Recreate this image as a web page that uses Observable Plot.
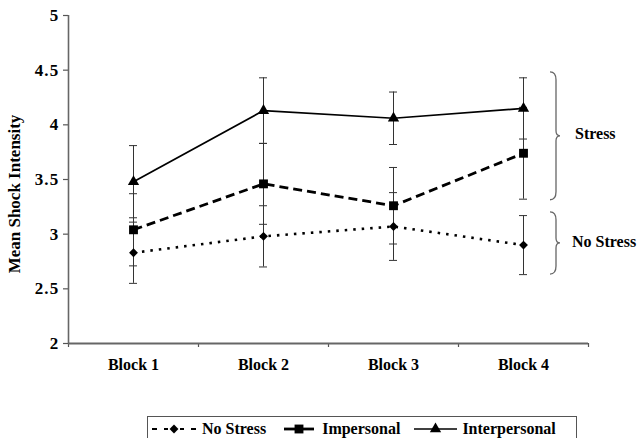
<!DOCTYPE html>
<html>
<head>
<meta charset="utf-8">
<script src="https://cdn.jsdelivr.net/npm/d3@7"></script>
<script src="https://cdn.jsdelivr.net/npm/@observablehq/plot@0.6"></script>
<style>
  html, body { margin: 0; padding: 0; background: #fff; }
  #wrap { position: relative; width: 640px; height: 438px; overflow: hidden; font-family: "Liberation Serif", "Times New Roman", serif; font-weight: bold; }
  #legend { position: absolute; left: 147px; top: 416px; width: 430px; height: 26px; border: 1px solid #555; box-sizing: border-box;
            display: flex; align-items: center; font-size: 16px; color: #000; white-space: nowrap; }
  #legend .item { display: flex; align-items: center; }
  #legend svg { display: block; }
  .ytick text { letter-spacing: 1.2px; }
</style>
</head>
<body>
<div id="wrap"></div>
<script>
// ---- data ----
const blocks = ["Block 1", "Block 2", "Block 3", "Block 4"];
const seriesNames = ["No Stress", "Impersonal", "Interpersonal"];
const noStress = [2.83, 2.98, 3.07, 2.90];
const noStressErr = [0.28, 0.28, 0.31, 0.27];
const impersonal = [3.04, 3.46, 3.26, 3.74];
const impersonalErr = [0.33, 0.37, 0.35, 0.42];
const interpersonal = [3.48, 4.13, 4.06, 4.15];
const interpersonalErr = [0.33, 0.30, 0.24, 0.28];
const yTicks = [2, 2.5, 3, 3.5, 4, 4.5, 5];
const braceLabels = ["Stress", "No Stress"];
const braceLow = [3.31, 2.63];
const braceHigh = [4.48, 3.20];

const FONT = "Liberation Serif";

// ---- styles per series ----
const styles = {
  "No Stress": {dash: "2.5,6", width: 2.6, symbol: "diamond2", r: 4},
  "Impersonal": {dash: "9,5", width: 2.8, symbol: "square", r: 5},
  "Interpersonal": {dash: null, width: 1.7, symbol: "triangle", r: 4.2}
};

const values = [noStress, impersonal, interpersonal];
const errs = [noStressErr, impersonalErr, interpersonalErr];
const rows = [];
seriesNames.forEach((s, k) => {
  blocks.forEach((b, i) => {
    rows.push({series: s, block: b, i, v: values[k][i], lo: values[k][i] - errs[k][i], hi: values[k][i] + errs[k][i]});
  });
});
const idx = blocks.map((b, i) => i);
const bounds = [-0.5, ...idx.map(i => i + 0.5)];

const lineMarks = seriesNames.flatMap(s => {
  const st = styles[s];
  const d = rows.filter(r => r.series === s);
  return [
    Plot.line(d, {x: "i", y: "v", stroke: "#000", strokeWidth: st.width, strokeDasharray: st.dash, strokeLinecap: "butt"}),
    Plot.dot(d, {x: "i", y: "v", symbol: () => st.symbol, r: st.r, fill: "#000", stroke: "none"})
  ];
});

const chart = Plot.plot({
  width: 640,
  height: 400,
  marginLeft: 68,
  marginRight: 52,
  marginTop: 15,
  marginBottom: 57,
  style: {fontFamily: FONT, fontSize: "16px", fontWeight: "bold", color: "#000", background: "transparent", overflow: "visible"},
  x: {type: "linear", domain: [-0.5, blocks.length - 0.5], axis: null},
  y: {domain: [2, 5], axis: null},
  symbol: {type: "identity"},
  marks: [
    Plot.axisY({ticks: yTicks, tickSize: 5, tickFormat: () => "", label: null, stroke: "#555", strokeWidth: 1.2}),
    Plot.text(yTicks, {y: d => d, text: d => String(d), frameAnchor: "left", dx: -9, textAnchor: "end", className: "ytick",
                       fontFamily: FONT, fontSize: 17, fontWeight: "bold", fill: "#000"}),
    Plot.text(idx, {x: d => d, text: d => blocks[d], frameAnchor: "bottom", dy: 26,
                    fontFamily: FONT, fontSize: 16, fontWeight: "bold", fill: "#000"}),
    Plot.axisX({ticks: bounds, tickSize: 4, tickFormat: () => "", label: null, stroke: "#555", strokeWidth: 1.2}),
    Plot.ruleX([-0.5], {y1: 2, y2: 5, stroke: "#666", strokeWidth: 1.6}),
    Plot.ruleY([2], {x1: -0.5, x2: blocks.length - 0.5, stroke: "#666", strokeWidth: 2}),
    Plot.ruleX(rows, {x: "i", y1: "lo", y2: "hi", stroke: "#333", strokeWidth: 1}),
    Plot.ruleY(rows, {y: "lo", x1: "i", x2: "i", insetLeft: -4, insetRight: -4, stroke: "#333", strokeWidth: 1}),
    Plot.ruleY(rows, {y: "hi", x1: "i", x2: "i", insetLeft: -4, insetRight: -4, stroke: "#333", strokeWidth: 1}),
    ...lineMarks
  ]
});

document.getElementById("wrap").appendChild(chart);

// y-axis title
const svg = d3.select(chart);
const ys = chart.scale("y");
const xs = chart.scale("x");
svg.append("text")
  .attr("transform", `translate(16,${(ys.apply(2) + ys.apply(5)) / 2 + 15}) rotate(-90)`)
  .attr("text-anchor", "middle")
  .attr("dominant-baseline", "middle")
  .attr("font-family", FONT)
  .attr("font-size", 17)
  .attr("font-weight", "bold")
  .attr("fill", "#000")
  .text("Mean Shock Intensity");

// braces
const bx = xs.apply(blocks.length - 1) + 27;
braceLabels.forEach((lab, k) => {
  const top = ys.apply(braceHigh[k]);
  const bot = ys.apply(braceLow[k]);
  const mid = (top + bot) / 2;
  const w = 6;
  const p = `M${bx},${top} Q${bx + w},${top} ${bx + w},${top + 8} L${bx + w},${mid - 5} Q${bx + w},${mid} ${bx + w + 4},${mid} Q${bx + w},${mid} ${bx + w},${mid + 5} L${bx + w},${bot - 8} Q${bx + w},${bot} ${bx},${bot}`;
  svg.append("path").attr("d", p).attr("fill", "none").attr("stroke", "#666").attr("stroke-width", 1.3);
  svg.append("text")
    .attr("x", bx + 25 + (k === 1 ? -3 : 0))
    .attr("y", mid)
    .attr("text-anchor", "start")
    .attr("dominant-baseline", "middle")
    .attr("font-family", FONT)
    .attr("font-size", 16)
    .attr("font-weight", "bold")
    .attr("fill", "#000")
    .text(lab);
});

// legend
const legend = d3.select("#wrap").append("div").attr("id", "legend");
const swW = {"No Stress": 48, "Impersonal": 30, "Interpersonal": 43};
const gapBefore = {"No Stress": 2, "Impersonal": 18, "Interpersonal": 14};
const gapText = {"No Stress": 4, "Impersonal": 8, "Interpersonal": 5};
seriesNames.forEach(s => {
  const st = styles[s];
  const it = legend.append("div").attr("class", "item").style("margin-left", gapBefore[s] + "px");
  const w = swW[s];
  const sv = it.append("svg").attr("width", w).attr("height", 14).style("margin-right", gapText[s] + "px");
  if (s === "No Stress") {
    [[2, 7], [w / 2 - 10, w / 2 - 6], [w / 2 + 6, w / 2 + 10], [w - 7, w - 2]].forEach(([a, b]) =>
      sv.append("line").attr("x1", a).attr("x2", b).attr("y1", 7).attr("y2", 7).attr("stroke", "#000").attr("stroke-width", 2));
  } else {
    sv.append("line").attr("x1", 0).attr("x2", w).attr("y1", 7).attr("y2", 7)
      .attr("stroke", "#000").attr("stroke-width", st.width);
  }
  const symMap = {diamond2: d3.symbolDiamond2, square: d3.symbolSquare, triangle: d3.symbolTriangle};
  sv.append("path").attr("transform", `translate(${w / 2},7)`)
    .attr("d", d3.symbol(symMap[st.symbol], st.r * st.r * Math.PI)())
    .attr("fill", "#000");
  it.append("span").text(s);
});
</script>
</body>
</html>
